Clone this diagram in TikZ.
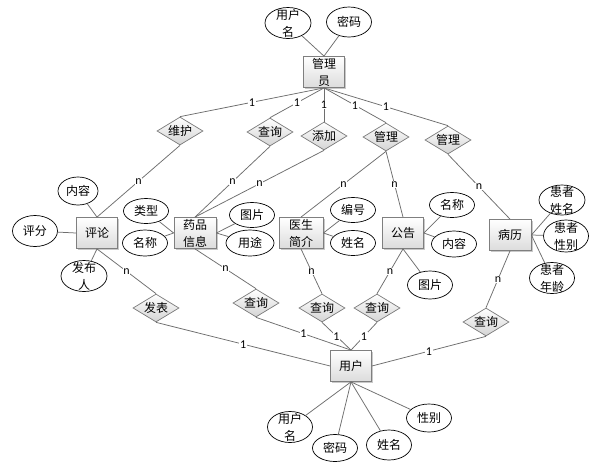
\documentclass[tikz,border=0pt]{standalone}
\usepackage{fontspec}
\newfontfamily\cjk{Noto Sans CJK SC}
\newfontfamily\lbl{Carlito}
\usetikzlibrary{shapes.geometric,shadows}
\definecolor{lncol}{HTML}{6E6E6E}
\definecolor{entb}{HTML}{7F7F7F}
\definecolor{entf}{HTML}{DCDCDC}
\definecolor{relb}{HTML}{7A7A7A}
\definecolor{relf}{HTML}{D4D4D4}
\newcommand\tx[1]{\raisebox{-4.4pt}[0pt][0pt]{#1}}
\newcommand\tw[2]{\raisebox{-4.2pt}[0pt][0pt]{\begin{tabular}{@{}c@{}}#1\\#2\end{tabular}}}
\begin{document}
\begin{tikzpicture}[x=1pt,y=-1pt,
  ln/.style={draw=lncol, line width=0.75pt},
  ent/.style={rectangle, draw=entb, line width=0.8pt, top color=white, bottom color=entf,
    drop shadow={shadow xshift=1.6pt, shadow yshift=-1.6pt, opacity=0.35, fill=black!60},
    minimum width=41pt, minimum height=31pt, inner sep=0pt, font=\cjk\fontsize{12}{17}\selectfont},
  rel/.style={diamond, draw=relb, line width=0.7pt, top color=white, bottom color=relf,
    minimum width=46pt, minimum height=28pt, inner sep=0pt, font=\cjk\fontsize{12}{17}\selectfont},
  att/.style={ellipse, draw=black, line width=0.7pt, fill=white, minimum width=45pt, minimum height=28pt,
    inner sep=0pt, font=\cjk\fontsize{12}{17}\selectfont},
  card/.style={fill=white, inner sep=0.6pt, font=\lbl\fontsize{12}{12}\selectfont, text=black}]
\useasboundingbox (0,0) rectangle (613,472);
\fill[white] (0,0) rectangle (613,472);

% entities
\node[ent] (gly) at (324,72) {\tw{管理}{员}};
\node[ent] (pl) at (97,233) {\tx{评论}};
\node[ent, minimum width=42pt] (yp) at (195,233) {\tw{药品}{信息}};
\node[ent, minimum width=44pt] (ys) at (301,233) {\tw{医生}{简介}};
\node[ent] (gg) at (403,233) {\tx{公告}};
\node[ent, minimum width=42pt] (bl) at (510,235) {\tx{病历}};
\node[ent] (yh) at (351,366) {\tx{用户}};

% relations
\node[rel] (wh) at (180,131) {\tx{维护}};
\node[rel] (cx1) at (270,132) {\tx{查询}};
\node[rel] (tj) at (324,136) {\tx{添加}};
\node[rel] (gl1) at (386,137) {\tx{管理}};
\node[rel] (gl2) at (448,140) {\tx{管理}};
\node[rel] (fb) at (156,308) {\tx{发表}};
\node[rel] (cx2) at (256,303) {\tx{查询}};
\node[rel] (cx3) at (322,308) {\tx{查询}};
\node[rel] (cx4) at (377,308) {\tx{查询}};
\node[rel] (cx5) at (486,322) {\tx{查询}};

% attributes
\node[att, minimum width=46pt, minimum height=31pt] (a1) at (288,23) {\tw{用户}{名}};
\node[att, minimum height=30pt] (a2) at (349,22) {\tx{密码}};
\node[att, minimum width=40pt] (a3) at (78,191) {\tx{内容}};
\node[att, minimum height=31pt] (a4) at (35,231) {\tx{评分}};
\node[att, minimum width=46pt, minimum height=31pt] (a5) at (84,276) {\tw{发布}{人}};
\node[att, minimum height=25pt] (a6) at (146,211) {\tx{类型}};
\node[att, minimum height=26pt] (a7) at (145,243) {\tx{名称}};
\node[att, minimum height=25pt] (a8) at (252,215) {\tx{图片}};
\node[att, minimum width=48pt, minimum height=26pt] (a9) at (250,243) {\tx{用途}};
\node[att, minimum height=25pt] (a10) at (353,210) {\tx{编号}};
\node[att, minimum height=25pt] (a11) at (353,243) {\tx{姓名}};
\node[att, minimum height=25pt] (a12) at (452,205) {\tx{名称}};
\node[att, minimum height=26pt] (a13) at (454,244) {\tx{内容}};
\node[att, minimum height=28pt] (a14) at (430,285) {\tx{图片}};
\node[att, minimum width=46pt, minimum height=30pt] (a15) at (562,200) {\tw{患者}{姓名}};
\node[att, minimum height=32pt] (a16) at (566,236) {\tw{患者}{性别}};
\node[att, minimum height=31pt] (a17) at (552,278) {\tw{患者}{年龄}};
\node[att, minimum height=31pt] (a18) at (290,427) {\tw{用户}{名}};
\node[att, minimum height=27pt] (a19) at (335,448) {\tx{密码}};
\node[att, minimum height=30pt] (a20) at (389,445) {\tx{姓名}};
\node[att, minimum height=28pt] (a21) at (429,418) {\tx{性别}};

% attribute links
\draw[ln] (a1) -- (gly.north);
\draw[ln] (a2) -- (gly.north);
\draw[ln] (a3) -- (pl.north);
\draw[ln] (a4) -- (pl.west);
\draw[ln] (a5) -- (pl.south);
\draw[ln] (a6) -- (yp.west);
\draw[ln] (a7) -- (yp.west);
\draw[ln] (a8) -- (yp.east);
\draw[ln] (a9) -- (yp.east);
\draw[ln] (a10) -- (ys.east);
\draw[ln] (a11) -- (ys.east);
\draw[ln] (a12) -- (gg.east);
\draw[ln] (a13) -- (gg.east);
\draw[ln] (a14) -- (gg.south);
\draw[ln] (a15) -- (bl.east);
\draw[ln] (a16) -- (bl.east);
\draw[ln] (a17) -- (bl.east);
\draw[ln] (a18) -- (yh.south);
\draw[ln] (a19) -- (yh.south);
\draw[ln] (a20) -- (yh.south);
\draw[ln] (a21) -- (yh.south);

% admin relations
\draw[ln] (gly.south) -- (wh.north) node[card, midway] {1};
\draw[ln] (gly.south) -- (cx1.north) node[card, midway] {1};
\draw[ln] (gly.south) -- (tj.north) node[card, midway] {1};
\draw[ln] (gly.south) -- (gl1.north) node[card, midway] {1};
\draw[ln] (gly.south) -- (gl2.north) node[card, midway] {1};

\draw[ln] (wh.south) -- (pl.north) node[card, midway] {n};
\draw[ln] (cx1.south) -- (yp.north) node[card, midway] {n};
\draw[ln] (tj.south) -- (yp.north) node[card, midway] {n};
\draw[ln] (gl1.south) -- (ys.north) node[card, midway] {n};
\draw[ln] (gl1.south) -- (gg.north) node[card, midway] {n};
\draw[ln] (gl2.south) -- (bl.north) node[card, midway] {n};

% user relations
\draw[ln] (pl.south) -- (fb.north) node[card, midway] {n};
\draw[ln] (yp.south) -- (cx2.north) node[card, midway] {n};
\draw[ln] (ys.south) -- (cx3.north) node[card, midway] {n};
\draw[ln] (gg.south) -- (cx4.north) node[card, midway] {n};
\draw[ln] (bl.south) -- (cx5.north) node[card, midway] {n};

\draw[ln] (fb.south) -- (yh.west) node[card, midway] {1};
\draw[ln] (cx2.south) -- (yh.north) node[card, midway] {1};
\draw[ln] (cx3.south) -- (yh.north) node[card, midway] {1};
\draw[ln] (cx4.south) -- (yh.north) node[card, midway] {1};
\draw[ln] (cx5.south) -- (yh.east) node[card, midway] {1};
\end{tikzpicture}
\end{document}
